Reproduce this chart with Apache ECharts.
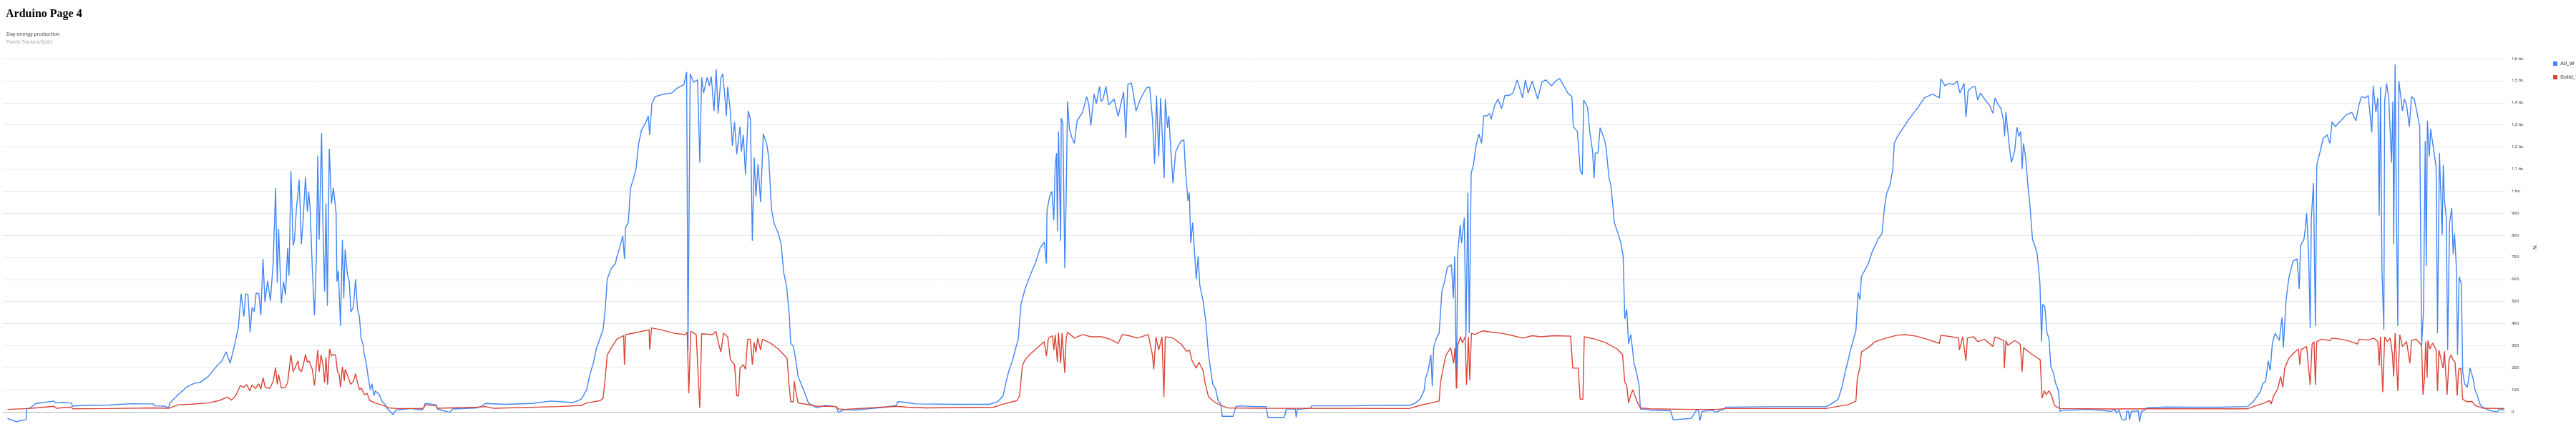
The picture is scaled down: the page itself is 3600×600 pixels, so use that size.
<!DOCTYPE html>
<html><head><meta charset="utf-8">
<script src="https://cdn.jsdelivr.net/npm/echarts@6/dist/echarts.min.js"></script>
<style>html,body{margin:0;padding:0;background:#fff}#c{width:3600px;height:600px}</style>
</head><body><div id="c"></div>
<script>
// x = logger record number, y = watts
const seriesNames = ['All_W', 'Solid_W'];
const yTicks = [0,100,200,300,400,500,600,700,800,900,1000,1100,1200,1300,1400,1500,1600];

const allW = [
[27,-30],[45,-38],[60,-45],[80,-38],[95,-36],[97,13],[110,18],[130,38],[160,42],[197,49],[202,40],[230,42],[260,40],[265,26],[300,29],[350,30],[400,31],[440,34],[480,37],[520,36],[560,36],[565,27],[600,26],[615,18],[620,40],[650,78],[680,111],[710,130],[730,133],[760,160],[790,206],[810,231],[825,272],[840,220],[855,296],[870,383],[880,535],[890,432],[897,535],[905,530],[913,361],[920,473],[928,454],[935,539],[945,535],[952,437],[960,693],[967,497],[977,593],[987,503],[997,671],[1006,1014],[1012,584],[1017,829],[1027,492],[1035,590],[1042,530],[1050,742],[1055,617],[1062,1091],[1070,753],[1075,780],[1082,922],[1088,993],[1092,1052],[1100,759],[1107,878],[1115,1063],[1122,906],[1127,998],[1132,922],[1140,650],[1148,437],[1155,704],[1160,1161],[1165,780],[1174,1262],[1178,900],[1185,546],[1190,944],[1195,481],[1202,1192],[1210,944],[1217,1014],[1222,1008],[1227,900],[1230,590],[1235,639],[1243,389],[1250,780],[1255,514],[1260,737],[1268,623],[1275,590],[1281,452],[1290,476],[1298,601],[1305,465],[1312,432],[1318,334],[1325,307],[1330,258],[1337,220],[1345,149],[1352,100],[1358,127],[1365,73],[1370,95],[1385,78],[1395,46],[1405,35],[1415,13],[1435,-12],[1445,8],[1500,15],[1540,8],
[1547,18],[1552,38],[1592,32],[1597,13],[1642,-3],[1652,13],[1742,18],[1757,24],[1772,38],[1842,34],[1942,38],[2012,49],[2092,42],[2122,57],[2142,100],[2152,160],[2167,225],[2177,285],[2202,372],[2210,470],[2217,601],[2232,650],[2247,671],[2252,702],[2262,742],[2274,797],[2280,693],[2284,835],[2294,857],[2302,1014],[2312,1052],[2322,1101],[2332,1216],[2342,1276],[2357,1308],[2367,1341],[2372,1254],[2380,1395],[2392,1428],[2422,1439],[2452,1444],[2472,1466],[2497,1482],[2507,1540],[2512,280],[2520,1531],[2532,1493],[2547,1504],[2555,1129],[2562,1515],[2569,1444],[2582,1515],[2590,1477],[2597,1520],[2607,1363],[2615,1551],[2622,1352],[2632,1510],[2639,1531],[2647,1422],[2652,1341],[2657,1472],[2667,1357],[2674,1205],[2682,1313],[2690,1167],[2702,1292],[2707,1179],[2714,1254],[2722,1074],[2732,1363],[2740,1325],[2747,775],[2754,1151],[2760,975],[2768,1123],[2777,949],[2787,1259],[2800,1210],[2807,1151],[2817,916],[2827,851],[2842,808],[2852,759],[2862,628],[2872,568],[2882,438],[2887,312],[2897,296],[2907,225],[2914,160],[2932,106],[2952,40],[2982,18],[3012,29],[3052,24],[3062,-3],[3082,10],
[3123,8],[3183,15],[3233,21],[3273,29],[3278,46],[3313,42],[3343,36],[3483,34],[3613,34],[3643,46],[3663,73],[3673,133],[3683,182],[3698,236],[3708,285],[3718,329],[3728,487],[3743,557],[3763,623],[3783,682],[3798,742],[3813,770],[3821,672],[3823,911],[3833,977],[3841,998],[3848,867],[3853,1118],[3858,1172],[3861,818],[3865,1270],[3873,775],[3875,1330],[3881,1308],[3888,650],[3893,971],[3898,1406],[3905,1281],[3915,1238],[3923,1216],[3933,1319],[3953,1357],[3968,1428],[3976,1390],[3983,1297],[3995,1439],[4003,1396],[4015,1474],[4020,1406],[4028,1417],[4038,1475],[4048,1390],[4068,1417],[4083,1338],[4093,1396],[4103,1450],[4111,1240],[4118,1482],[4131,1490],[4138,1444],[4148,1363],[4163,1412],[4178,1450],[4188,1469],[4198,1471],[4208,1330],[4216,1123],[4223,1433],[4231,1156],[4238,1422],[4251,1058],[4255,1417],[4263,1287],[4268,1341],[4273,1232],[4283,1036],[4293,1178],[4303,1205],[4313,1227],[4323,1232],[4328,1107],[4338,955],[4343,993],[4348,764],[4355,857],[4368,601],[4375,704],[4381,574],[4393,503],[4403,410],[4413,258],[4428,127],[4438,106],[4448,51],[4458,35],[4463,-20],[4503,-20],[4513,24],[4528,27],[4583,24],[4623,24],
[4630,-25],[4690,-25],[4697,13],[4730,13],[4733,-25],[4737,11],[4785,16],[4790,27],[4925,27],[5025,29],[5145,29],[5165,38],[5185,57],[5200,95],[5205,149],[5215,187],[5225,258],[5230,116],[5235,291],[5245,334],[5255,356],[5260,448],[5265,546],[5275,590],[5285,655],[5300,666],[5307,514],[5312,704],[5318,106],[5323,720],[5332,846],[5337,764],[5347,878],[5353,340],[5360,993],[5365,356],[5372,1080],[5380,1118],[5390,1205],[5400,1259],[5410,1216],[5418,1341],[5430,1341],[5440,1352],[5445,1325],[5457,1385],[5470,1417],[5483,1373],[5495,1433],[5510,1433],[5525,1444],[5540,1504],[5560,1422],[5570,1504],[5580,1444],[5595,1498],[5615,1417],[5630,1493],[5645,1504],[5665,1477],[5680,1498],[5695,1510],[5705,1488],[5725,1444],[5740,1428],[5745,1292],[5760,1270],[5770,1096],[5778,1074],[5783,1412],[5797,1379],[5805,1270],[5815,1183],[5821,1058],[5825,1172],[5835,1172],[5843,1287],[5850,1265],[5860,1227],[5865,1194],[5875,1063],[5883,1020],[5895,857],[5910,802],[5920,759],[5927,704],[5933,421],[5940,465],[5947,307],[5955,350],[5967,220],[5977,171],[5985,122],[5990,13],[6015,10],[6035,8],[6100,5],[6110,-36],[6175,-30],
[6195,8],[6202,8],[6207,-41],[6215,2],[6257,8],[6262,-3],[6297,13],[6302,21],[6467,23],[6667,23],[6687,35],[6712,57],[6727,116],[6737,176],[6747,225],[6757,280],[6777,367],[6785,541],[6792,508],[6797,612],[6822,671],[6837,726],[6857,780],[6872,808],[6877,802],[6882,933],[6889,987],[6902,1030],[6912,1101],[6917,1216],[6927,1243],[6947,1281],[6967,1319],[6987,1352],[7007,1385],[7027,1422],[7057,1439],[7082,1422],[7087,1508],[7102,1477],[7117,1488],[7132,1482],[7147,1498],[7157,1444],[7172,1488],[7179,1335],[7187,1455],[7202,1471],[7212,1475],[7222,1412],[7232,1444],[7247,1417],[7267,1385],[7277,1352],[7285,1422],[7297,1390],[7307,1374],[7317,1313],[7320,1248],[7325,1357],[7337,1205],[7345,1129],[7357,1183],[7365,1289],[7372,1248],[7379,1270],[7384,1101],[7389,1216],[7397,1151],[7407,998],[7412,944],[7422,780],[7429,759],[7439,715],[7449,584],[7455,318],[7459,487],[7467,476],[7475,356],[7482,334],[7489,204],[7497,182],[7507,127],[7517,95],[7522,2],[7532,8],[7567,8],[7617,11],[7667,8],[7707,2],
[7723,10],[7728,-5],[7738,8],[7748,-36],[7763,-36],[7766,2],[7773,2],[7776,-36],[7783,2],[7808,5],[7813,-45],[7820,2],[7833,8],[7838,18],[7908,22],[8008,21],[8108,21],[8208,24],[8228,46],[8253,89],[8263,127],[8273,138],[8283,231],[8290,187],[8298,312],[8308,356],[8323,323],[8333,427],[8338,291],[8348,508],[8358,606],[8373,682],[8388,693],[8396,557],[8401,753],[8413,780],[8418,829],[8423,900],[8430,726],[8436,378],[8440,873],[8448,1036],[8455,389],[8460,1118],[8473,1183],[8483,1238],[8498,1254],[8508,1216],[8516,1314],[8528,1292],[8548,1319],[8568,1346],[8588,1357],[8603,1319],[8613,1385],[8623,1428],[8638,1422],[8648,1433],[8661,1265],[8666,1477],[8676,1357],[8683,1422],[8688,889],[8693,1471],[8698,650],[8705,372],[8708,1406],[8715,1488],[8723,1417],[8733,1129],[8738,1406],[8741,759],[8746,1573],[8751,878],[8756,389],[8760,1498],[8765,1503],[8773,1363],[8780,1417],[8788,1390],[8798,1292],[8806,1428],[8816,1417],[8826,1357],[8836,1292],[8843,301],[8850,465],[8856,1227],[8860,661],[8864,1319],[8871,1156],[8876,1281],[8886,1194],[8896,1107],[8901,356],[8908,1172],[8918,802],[8922,1118],[8926,965],[8933,878],[8938,280],[8945,857],[8953,922],[8958,715],[8963,808],[8970,650],[8974,258],[8980,612],[8988,579],[8993,182],[9000,127],[9010,111],[9020,198],[9030,155],[9038,100],[9048,67],[9058,29],[9068,21],[9088,8],[9118,-1],[9128,13],[9145,8]
];

const solidW = [
[27,11],[100,15],[130,18],[197,25],[205,16],[260,22],[265,14],[400,15],[560,18],[615,16],[650,32],[700,35],[760,40],[800,51],[830,67],[845,53],[860,73],[877,119],[890,111],[900,124],[912,95],[920,122],[932,106],[945,127],[952,103],[960,155],[968,111],[985,106],[997,138],[1006,201],[1012,125],[1017,169],[1027,108],[1042,111],[1050,133],[1062,258],[1070,182],[1082,214],[1088,231],[1092,193],[1100,182],[1107,209],[1115,260],[1122,225],[1128,231],[1140,193],[1148,119],[1160,280],[1165,182],[1172,258],[1180,204],[1185,133],[1190,247],[1196,122],[1203,285],[1210,253],[1217,260],[1225,258],[1232,182],[1238,171],[1243,111],[1250,204],[1257,140],[1260,193],[1270,160],[1280,125],[1290,138],[1298,173],[1305,133],[1312,102],[1320,106],[1330,78],[1340,84],[1350,51],[1370,40],[1400,29],[1420,18],[1450,15],[1540,15],
[1547,18],[1552,32],[1592,27],[1597,16],[1742,21],[1772,24],[1802,16],[2042,24],[2122,29],[2142,40],[2192,51],[2202,62],[2210,155],[2217,258],[2232,290],[2252,329],[2277,345],[2280,214],[2284,350],[2332,361],[2370,372],[2372,282],[2379,380],[2412,372],[2462,356],[2502,350],[2509,361],[2515,84],[2522,365],[2542,350],[2555,18],[2562,354],[2602,350],[2614,365],[2622,318],[2632,271],[2642,356],[2657,340],[2667,236],[2682,214],[2690,73],[2697,73],[2702,199],[2714,214],[2722,193],[2730,329],[2740,329],[2747,214],[2754,315],[2760,269],[2767,334],[2777,280],[2784,329],[2812,312],[2842,285],[2867,252],[2874,242],[2880,138],[2887,46],[2897,46],[2900,138],[2907,84],[2914,40],[2942,35],[2982,26],[3052,24],[3062,13],
[3083,11],[3273,25],[3313,21],[3383,18],[3628,21],[3663,35],[3713,51],[3723,73],[3733,209],[3743,236],[3763,263],[3783,285],[3813,318],[3821,252],[3828,334],[3843,345],[3848,280],[3853,350],[3861,225],[3865,358],[3873,220],[3878,356],[3888,176],[3893,334],[3898,361],[3923,334],[3953,350],[3983,340],[4023,340],[4053,329],[4083,310],[4098,350],[4123,345],[4153,334],[4193,350],[4208,258],[4213,193],[4221,340],[4231,280],[4243,340],[4250,67],[4255,340],[4283,334],[4313,307],[4333,274],[4343,280],[4353,231],[4368,198],[4378,225],[4393,187],[4401,127],[4413,67],[4433,46],[4458,29],[4483,18],[4623,16],
[5145,15],[5185,29],[5225,40],[5255,49],[5260,133],[5270,198],[5280,256],[5297,290],[5308,220],[5313,290],[5319,106],[5323,302],[5333,340],[5340,312],[5350,340],[5355,122],[5362,340],[5367,144],[5373,356],[5385,350],[5415,367],[5445,361],[5485,356],[5525,345],[5560,334],[5595,345],[5625,340],[5675,345],[5735,343],[5743,198],[5763,198],[5770,57],[5780,57],[5785,340],[5825,329],[5865,312],[5905,285],[5925,258],[5933,133],[5940,122],[5947,40],[5955,78],[5963,100],[5970,73],[5980,40],[5990,18],[6025,14],[6175,11],
[6267,11],[6302,15],[6667,15],[6707,24],[6747,32],[6777,48],[6782,149],[6792,204],[6797,271],[6827,296],[6847,318],[6887,334],[6927,347],[6957,350],[6997,343],[7037,329],[7082,310],[7087,347],[7127,340],[7152,334],[7155,280],[7167,340],[7179,231],[7184,334],[7207,340],[7222,318],[7247,329],[7277,296],[7285,340],[7317,323],[7319,198],[7325,323],[7332,301],[7357,323],[7377,307],[7384,182],[7389,291],[7417,263],[7437,247],[7450,236],[7457,62],[7465,95],[7472,78],[7482,95],[7492,73],[7502,29],[7522,15],[7707,13],
[7838,14],[8208,14],[8228,24],[8268,40],[8288,51],[8293,35],[8303,73],[8318,106],[8328,160],[8336,111],[8343,198],[8358,242],[8378,269],[8393,285],[8398,214],[8403,282],[8423,296],[8436,122],[8443,307],[8450,318],[8455,122],[8460,318],[8478,329],[8508,323],[8516,334],[8548,329],[8578,321],[8608,307],[8616,329],[8648,325],[8668,334],[8683,318],[8688,209],[8693,340],[8701,89],[8708,340],[8718,318],[8728,334],[8736,263],[8741,160],[8746,356],[8751,236],[8756,95],[8763,350],[8773,296],[8788,318],[8800,220],[8806,323],[8823,329],[8843,301],[8848,78],[8853,144],[8858,318],[8863,155],[8866,323],[8873,285],[8883,312],[8896,280],[8901,95],[8906,280],[8921,198],[8926,274],[8936,78],[8943,236],[8950,258],[8958,236],[8965,225],[8973,73],[8978,193],[8986,198],[8993,57],[9008,46],[9028,46],[9038,29],[9068,16],[9145,15]
];

function fmtCz(v){
  if (v >= 1000) return String(v/1000).replace('.', ',') + ' tis.';
  return String(v);
}

const chart = echarts.init(document.getElementById('c'), null, {renderer:'canvas'});
chart.setOption({
  animation:false,
  backgroundColor:'#fff',
  title:[
    {text:'Arduino Page 4', left:3, top:7, textStyle:{fontFamily:'Liberation Serif', fontWeight:'bold', fontSize:16, color:'#000'}},
    {text:'Day energy production', left:4, top:39, textStyle:{fontFamily:'Roboto', fontWeight:'normal', fontSize:7.5, color:'#555'}},
    {text:'Panels Trackers/Solid', left:4, top:51, textStyle:{fontFamily:'Roboto', fontWeight:'normal', fontSize:6.5, color:'#aaa'}}
  ],
  legend:{
    data:seriesNames, orient:'vertical', left:3563, top:80, itemWidth:6, itemHeight:6, itemGap:11,
    icon:'rect', textStyle:{fontFamily:'Roboto', fontSize:8, color:'#333', padding:[0,0,0,-1]}
  },
  grid:{left:4, right:99, top:82, bottom:24, containLabel:false},
  xAxis:{type:'value', min:10, max:9148, show:true,
    axisLine:{show:true, lineStyle:{color:'#b7b7b7', width:1}}, axisTick:{show:false}, axisLabel:{show:false}, splitLine:{show:false}},
  yAxis:{type:'value', position:'right', min:yTicks[0], max:yTicks[yTicks.length-1], interval:100,
    name:'W', nameLocation:'middle', nameGap:35, nameRotate:-90,
    nameTextStyle:{fontFamily:'Roboto', fontSize:7, color:'#222', padding:[0,0,0,34]},
    axisLine:{show:false}, axisTick:{show:false},
    axisLabel:{formatter:fmtCz, fontFamily:'Roboto', fontSize:6, color:'#444', margin:9},
    splitLine:{lineStyle:{color:'#e8e8e8', width:1}}},
  series:[
    {name:seriesNames[0], type:'line', data:allW, showSymbol:false, clip:false, itemStyle:{color:'#4285f4'}, lineStyle:{color:'#4285f4', width:1.4}},
    {name:seriesNames[1], type:'line', data:solidW, showSymbol:false, clip:false, itemStyle:{color:'#db4437'}, lineStyle:{color:'#db4437', width:1.4}}
  ]
});
</script></body></html>
